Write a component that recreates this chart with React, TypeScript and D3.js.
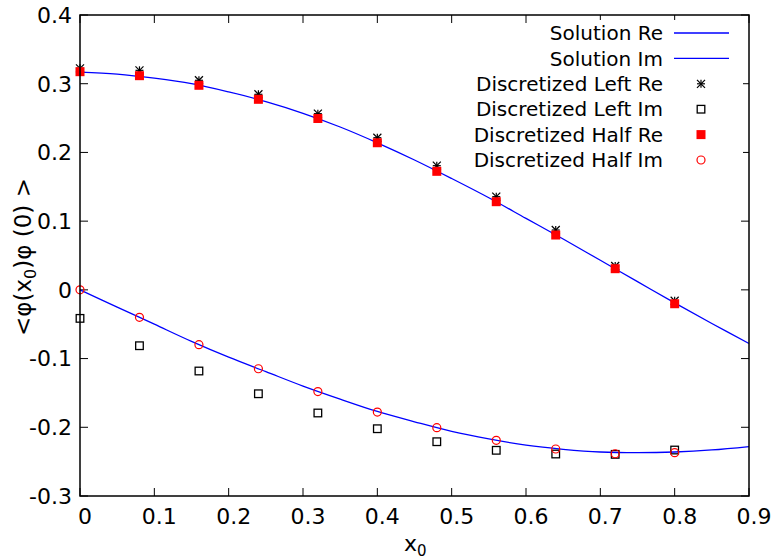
import React from "react";
import * as d3 from "d3";

const xData = [0, 0.08, 0.16, 0.24, 0.32, 0.4, 0.48, 0.56, 0.64, 0.72, 0.8];
const leftRe = [0.3224, 0.3195, 0.305, 0.2846, 0.2564, 0.2214, 0.1807, 0.1356, 0.0871, 0.0347, -0.0158];
const leftIm = [-0.0415, -0.0813, -0.1181, -0.1512, -0.1792, -0.2021, -0.221, -0.2335, -0.2389, -0.2394, -0.2331];
const halfRe = [0.3175, 0.3117, 0.2977, 0.2773, 0.2494, 0.2141, 0.1725, 0.1283, 0.0798, 0.0308, -0.0202];
const halfIm = [0.0, -0.04, -0.0798, -0.1148, -0.148, -0.1778, -0.2006, -0.219, -0.2316, -0.2385, -0.237];

const solX = [0, 0.05, 0.1, 0.15, 0.2, 0.25, 0.3, 0.35, 0.4, 0.45, 0.5, 0.55, 0.6, 0.65, 0.7, 0.75, 0.8, 0.85, 0.9];
const solRe = [0.317, 0.314, 0.308, 0.3, 0.288, 0.274, 0.257, 0.237, 0.214, 0.189, 0.162, 0.134, 0.104, 0.074, 0.043, 0.012, -0.019, -0.049, -0.078];
const solIm = [0.0, -0.025, -0.05, -0.075, -0.098, -0.119, -0.14, -0.159, -0.177, -0.192, -0.206, -0.217, -0.226, -0.232, -0.236, -0.237, -0.236, -0.233, -0.228];

const xTicks = [0, 0.1, 0.2, 0.3, 0.4, 0.5, 0.6, 0.7, 0.8, 0.9];
const xTickLabels = ["0", "0.1", "0.2", "0.3", "0.4", "0.5", "0.6", "0.7", "0.8", "0.9"];
const yTicks = [-0.3, -0.2, -0.1, 0, 0.1, 0.2, 0.3, 0.4];
const yTickLabels = ["-0.3", "-0.2", "-0.1", "0", "0.1", "0.2", "0.3", "0.4"];

const legendLabels = [
  "Solution Re",
  "Solution Im",
  "Discretized Left Re",
  "Discretized Left Im",
  "Discretized Half Re",
  "Discretized Half Im",
];

const FONT = "DejaVu Sans";

export default function App() {
  const L = 80, R = 749, T = 15, B = 496;
  const x = d3.scaleLinear().domain([0, 0.9]).range([L, R]);
  const y = d3.scaleLinear().domain([-0.3, 0.4]).range([B, T]);
  const line = d3
    .line<number>()
    .x((_, i) => x(solX[i]))
    .y((d) => y(d))
    .curve(d3.curveCatmullRom);

  const star = (cx: number, cy: number, k: string) => {
    const s = 4;
    return (
      <g key={k} stroke="#000" strokeWidth={1.2}>
        <line x1={cx - s} x2={cx + s} y1={cy} y2={cy} />
        <line x1={cx} x2={cx} y1={cy - s} y2={cy + s} />
        <line x1={cx - s} x2={cx + s} y1={cy - s} y2={cy + s} />
        <line x1={cx - s} x2={cx + s} y1={cy + s} y2={cy - s} />
      </g>
    );
  };
  const openSq = (cx: number, cy: number, k: string) => (
    <rect key={k} x={cx - 3.8} y={cy - 3.8} width={7.6} height={7.6} fill="none" stroke="#000" strokeWidth={1.3} />
  );
  const fillSq = (cx: number, cy: number, k: string) => (
    <rect key={k} x={cx - 4.5} y={cy - 4.5} width={9} height={9} fill="#ff0000" />
  );
  const circ = (cx: number, cy: number, k: string) => (
    <circle key={k} cx={cx} cy={cy} r={4} fill="none" stroke="#ff0000" strokeWidth={1.2} />
  );

  const tickLen = 8;
  const legX = 663;
  const legY0 = 33;
  const legDy = 25.4;

  return (
    <svg width={777} height={560} style={{ position: "absolute", left: 0, top: 0, background: "#fff" }} fontFamily={FONT}>
      <rect x={0} y={0} width={777} height={560} fill="#fff" />
      {/* ticks */}
      <g stroke="#000" strokeWidth={1}>
        {xTicks.map((t, i) => (
          <g key={"xt" + i}>
            <line x1={x(t)} x2={x(t)} y1={B} y2={B - tickLen} />
            <line x1={x(t)} x2={x(t)} y1={T} y2={T + tickLen} />
          </g>
        ))}
        {yTicks.map((t, i) => (
          <g key={"yt" + i}>
            <line x1={L} x2={L + tickLen} y1={y(t)} y2={y(t)} />
            <line x1={R} x2={R - tickLen} y1={y(t)} y2={y(t)} />
          </g>
        ))}
      </g>
      {/* tick labels */}
      <g fontSize={22} fill="#000">
        {xTicks.map((t, i) => (
          <text key={"xl" + i} x={x(t) + 5} y={524} textAnchor="middle">
            {xTickLabels[i]}
          </text>
        ))}
        {yTicks.map((t, i) => (
          <text key={"yl" + i} x={72} y={y(t)} dy="0.36em" textAnchor="end">
            {yTickLabels[i]}
          </text>
        ))}
      </g>
      {/* axis labels */}
      <text x={404} y={551} fontSize={22} fill="#000">
        x<tspan fontSize={15} dy={5}>0</tspan>
      </text>
      <text transform="translate(31,257) rotate(-90)" textAnchor="middle" fontSize={23} fill="#000">
        {"<φ(x"}
        <tspan fontSize={16} dy={5}>0</tspan>
        <tspan dy={-5}>{")φ  (0)  >"}</tspan>
      </text>
      {/* curves */}
      <path d={line(solRe) || ""} fill="none" stroke="#0000ff" strokeWidth={1.3} />
      <path d={line(solIm) || ""} fill="none" stroke="#0000ff" strokeWidth={1.3} />
      {/* points */}
      {xData.map((v, i) => star(x(v), y(leftRe[i]), "s" + i))}
      {xData.map((v, i) => openSq(x(v), y(leftIm[i]), "o" + i))}
      {xData.map((v, i) => fillSq(x(v), y(halfRe[i]), "f" + i))}
      {xData.map((v, i) => circ(x(v), y(halfIm[i]), "c" + i))}
      {/* border */}
      <rect x={L} y={T} width={R - L} height={B - T} fill="none" stroke="#000" strokeWidth={1.5} />
      {/* legend */}
      <rect x={548} y={20} width={195} height={152} fill="#fff" />
      <g fontSize={20} fill="#000">
        {legendLabels.map((s, i) => (
          <text key={"lg" + i} x={legX} y={legY0 + i * legDy} dy="0.36em" textAnchor="end">
            {s}
          </text>
        ))}
      </g>
      <line x1={674} x2={729} y1={legY0} y2={legY0} stroke="#0000ff" strokeWidth={1.3} />
      <line x1={674} x2={729} y1={legY0 + legDy} y2={legY0 + legDy} stroke="#0000ff" strokeWidth={1.3} />
      {star(701, legY0 + 2 * legDy, "ls")}
      {openSq(701, legY0 + 3 * legDy, "lo")}
      {fillSq(701, legY0 + 4 * legDy, "lf")}
      {circ(701, legY0 + 5 * legDy, "lc")}
    </svg>
  );
}
